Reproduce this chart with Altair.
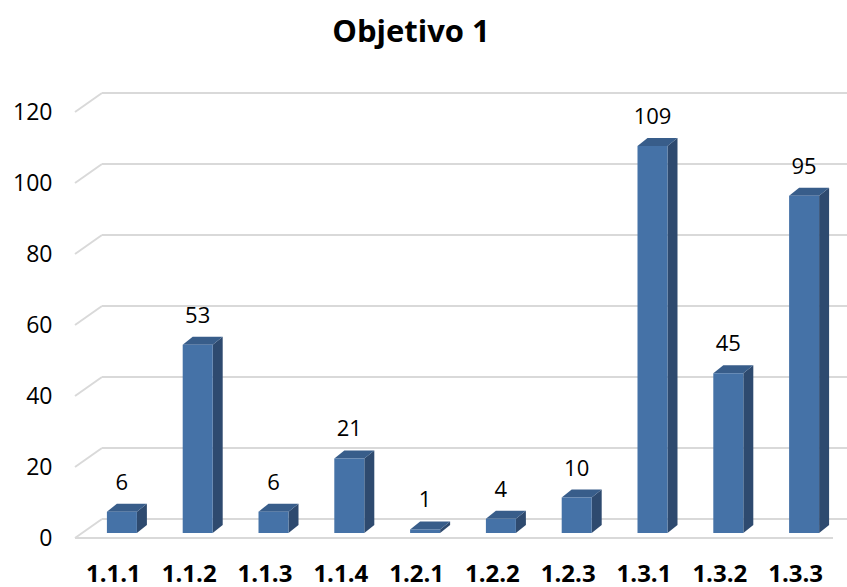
import json

import altair as alt
import pandas as pd

# ---- data -------------------------------------------------------------
categories = ["1.1.1", "1.1.2", "1.1.3", "1.1.4", "1.2.1",
              "1.2.2", "1.2.3", "1.3.1", "1.3.2", "1.3.3"]
counts = [6, 53, 6, 21, 1, 4, 10, 109, 45, 95]
y_ticks = [0, 20, 40, 60, 80, 100, 120]
chart_title = "Objetivo 1"

# ---- geometry of the pseudo-3D frame ------------------------------------
W, H = 758, 426                      # front plane of the plot
PAD = {"left": 75, "top": 112, "right": 14, "bottom": 49}
X_MIN, X_MAX = -0.5, len(categories) - 0.5
Y_MAX = 120
ux = (X_MAX - X_MIN) / W             # data units per pixel (x)
uy = Y_MAX / H                       # data units per pixel (y)

WALL_DX, WALL_DY = 27, 19            # depth of floor / side wall
BAR_SHIFT_X, BAR_SHIFT_Y = 9, 5      # bars stand a bit behind the front edge
BAR_W = 30
BAR_DX, BAR_DY = 10, 8               # depth of each column

FRONT = "#4572A7"
SIDE = "#2E4A6F"
TOP = "#385D8A"
GRID = "#D9D9D9"
FONT = "Open Sans"

# ---- tables -------------------------------------------------------------
bars = pd.DataFrame({"idx": range(len(categories)), "cat": categories, "v": counts})
bars["xl"] = bars["idx"] + (BAR_SHIFT_X - BAR_W / 2) * ux
bars["xr"] = bars["idx"] + (BAR_SHIFT_X + BAR_W / 2) * ux
bars["xc"] = bars["idx"] + BAR_SHIFT_X * ux
bars["yb"] = BAR_SHIFT_Y * uy
bars["yt"] = bars["v"] + BAR_SHIFT_Y * uy
bars["yback"] = bars["yt"] + BAR_DY * uy

ddx, ddy = BAR_DX * ux, BAR_DY * uy
side_rows, top_rows = [], []
for r in bars.itertuples():
    side_rows += [
        {"id": r.cat, "x": r.xr, "y": r.yt, "y2": r.yb},
        {"id": r.cat, "x": r.xr + ddx, "y": r.yt + ddy, "y2": r.yb + ddy},
    ]
    top_rows += [
        {"id": r.cat, "x": r.xl, "y": r.yt, "y2": r.yt},
        {"id": r.cat, "x": r.xl + ddx, "y": r.yt + ddy, "y2": r.yt},
        {"id": r.cat, "x": r.xr, "y": r.yt + ddy, "y2": r.yt},
        {"id": r.cat, "x": r.xr + ddx, "y": r.yt + ddy, "y2": r.yt + ddy},
    ]
side = pd.DataFrame(side_rows)
top = pd.DataFrame(top_rows)

grid = pd.DataFrame({"t": y_ticks})
grid["x0"] = X_MIN
grid["x1"] = X_MIN + WALL_DX * ux
grid["x2"] = X_MAX + WALL_DX * ux
grid["yb"] = grid["t"] + WALL_DY * uy

floor_edge = pd.DataFrame({"x0": [X_MIN], "x1": [X_MAX], "y": [0]})

# ---- scales and axes (shared by every layer) ----------------------------
xs = alt.Scale(domain=[X_MIN, X_MAX], nice=False, zero=False)
ys = alt.Scale(domain=[0, Y_MAX], nice=False, zero=False)

x_axis = alt.Axis(
    title=None, values=list(range(len(categories))),
    labelExpr=json.dumps(categories) + "[datum.value]",
    domain=False, ticks=False, grid=False, labelFont=FONT,
    labelFontSize=24, labelFontWeight="bold", labelColor="#000000",
    labelPadding=24, labelFlush=False, labelOverlap=False,
)
y_axis = alt.Axis(
    title=None, values=y_ticks, domain=False, ticks=False, grid=False,
    labelFont=FONT, labelFontSize=23, labelColor="#000000",
    labelPadding=23,
)


def X(field):
    return alt.X(field, scale=xs, axis=x_axis, title=None)


def Y(field):
    return alt.Y(field, scale=ys, axis=y_axis, title=None, stack=None)


# ---- layers -------------------------------------------------------------
wall_lines = alt.Chart(grid).mark_rule(color=GRID, strokeWidth=2).encode(
    x=X("x1:Q"), x2="x2:Q", y=Y("yb:Q"),
)
wall_diag = alt.Chart(grid).mark_rule(color=GRID, strokeWidth=2).encode(
    x=X("x0:Q"), x2="x1:Q", y=Y("t:Q"), y2="yb:Q",
)
floor_front = alt.Chart(floor_edge).mark_rule(color=GRID, strokeWidth=2).encode(
    x=X("x0:Q"), x2="x1:Q", y=Y("y:Q"),
)

side_faces = alt.Chart(side).mark_area(color=SIDE, interpolate="linear").encode(
    x=X("x:Q"), y=Y("y:Q"), y2="y2:Q", detail="id:N",
)
top_faces = alt.Chart(top).mark_area(color=TOP, interpolate="linear").encode(
    x=X("x:Q"), y=Y("y:Q"), y2="y2:Q", detail="id:N",
)
front_faces = alt.Chart(bars).mark_bar(color=FRONT).encode(
    x=X("xl:Q"), x2="xr:Q", y=Y("yb:Q"), y2="yt:Q",
)

value_labels = alt.Chart(bars).mark_text(
    font=FONT, fontSize=22, color="#000000", baseline="alphabetic", dy=-14
).encode(
    x=X("xc:Q"), y=Y("yback:Q"), text="v:Q",
)

chart = (
    alt.layer(wall_lines, wall_diag, floor_front, side_faces, top_faces,
              front_faces, value_labels)
    .properties(
        width=W, height=H,
        padding=PAD,
        autosize=alt.AutoSizeParams(type="none"),
        background="#FFFFFF",
        title=alt.TitleParams(
            chart_title, font=FONT, fontSize=31, fontWeight="bold",
            color="#000000", anchor="middle", frame="group",
            offset=43, dx=-43,
        ),
    )
    .configure_view(stroke=None)
)

chart.save("out.html", embed_options={"renderer": "svg", "actions": False})
